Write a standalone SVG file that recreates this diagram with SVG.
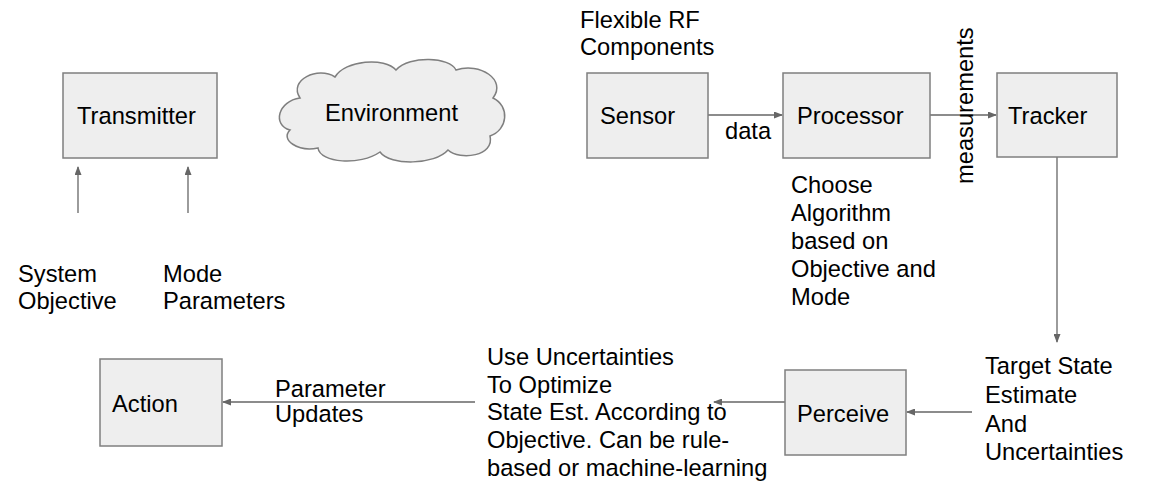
<svg xmlns="http://www.w3.org/2000/svg" width="1160" height="495" viewBox="0 0 1160 495">
<style>
.box{fill:#eeeeee;stroke:#7f7f7f;stroke-width:1.5}
.t{font-family:"Liberation Sans",Arial,sans-serif;font-size:23.7px;fill:#000}
.c{stroke:#666;stroke-width:1.3;fill:none;marker-end:url(#ah)}
</style>
<defs>
<marker id="ah" markerWidth="9" markerHeight="7" refX="8" refY="3.5" orient="auto" markerUnits="userSpaceOnUse">
<path d="M0,0 L9,3.5 L0,7 Z" fill="#666"/>
</marker>
</defs>
<rect width="1160" height="495" fill="#fff"/>
<g id="connectors">
<line class="c" x1="78" y1="213" x2="78" y2="167"/>
<line class="c" x1="188" y1="213" x2="188" y2="167"/>
<line class="c" x1="708" y1="115" x2="782" y2="115"/>
<line class="c" x1="930" y1="115" x2="996" y2="115"/>
<line class="c" x1="1057" y1="157" x2="1057" y2="342"/>
<line class="c" x1="972" y1="412" x2="907" y2="412"/>
<line class="c" x1="787" y1="402" x2="714" y2="402"/>
<line class="c" x1="475" y1="402" x2="223" y2="402"/>
</g>
<g id="transmitter"><rect class="box" x="63" y="73" width="154" height="85"/><text class="t" x="77" y="124">Transmitter</text></g>
<g id="environment"><path class="box" d="M300,98 C288,80 318,66 335,77 C345,60 385,57 396,70 C410,55 450,57 456,70 C480,62 507,80 493,98 C510,106 508,130 490,136 C495,156 460,161 448,150 C435,165 390,166 380,152 C360,166 320,163 318,148 C298,152 280,140 290,130 C272,125 278,101 300,98 Z"/><text class="t" x="325" y="121">Environment</text></g>
<g id="sensor"><rect class="box" x="587" y="73" width="121" height="85"/><text class="t" x="600" y="124">Sensor</text></g>
<g id="processor"><rect class="box" x="783" y="73" width="147" height="85"/><text class="t" x="797" y="124">Processor</text></g>
<g id="tracker"><rect class="box" x="997" y="73" width="120" height="84"/><text class="t" x="1008" y="124">Tracker</text></g>
<g id="action"><rect class="box" x="100" y="359" width="122" height="87"/><text class="t" x="112" y="412">Action</text></g>
<g id="perceive"><rect class="box" x="785" y="370" width="121" height="85"/><text class="t" x="797" y="422">Perceive</text></g>
<g id="labels">
<text class="t" x="580" y="28">Flexible RF</text>
<text class="t" x="580" y="55">Components</text>
<text class="t" x="725" y="139">data</text>
<text class="t" transform="translate(973,184) rotate(-90)">measurements</text>
<text class="t" x="791" y="193">Choose</text>
<text class="t" x="791" y="221">Algorithm</text>
<text class="t" x="791" y="249">based on</text>
<text class="t" x="791" y="277">Objective and</text>
<text class="t" x="791" y="305">Mode</text>
<text class="t" x="18" y="282">System</text>
<text class="t" x="18" y="309">Objective</text>
<text class="t" x="163" y="282">Mode</text>
<text class="t" x="163" y="309">Parameters</text>
<text class="t" x="275" y="397">Parameter</text>
<text class="t" x="275" y="422">Updates</text>
<text class="t" x="487" y="365">Use Uncertainties</text>
<text class="t" x="487" y="393">To Optimize</text>
<text class="t" x="487" y="420">State Est. According to</text>
<text class="t" x="487" y="448">Objective. Can be rule-</text>
<text class="t" x="487" y="476">based or machine-learning</text>
<text class="t" x="985" y="374">Target State</text>
<text class="t" x="985" y="403">Estimate</text>
<text class="t" x="985" y="432">And</text>
<text class="t" x="985" y="460">Uncertainties</text>
</g>
</svg>
